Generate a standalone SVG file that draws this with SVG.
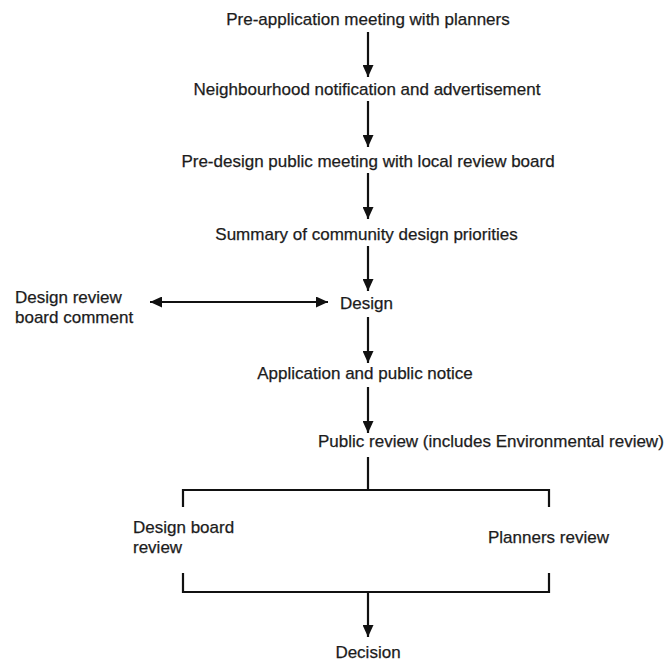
<svg xmlns="http://www.w3.org/2000/svg" width="670" height="664" viewBox="0 0 670 664">
<defs>
<marker id="ah" viewBox="0 0 12 11" refX="12" refY="5.5" markerWidth="12" markerHeight="11" markerUnits="userSpaceOnUse" orient="auto-start-reverse">
<path d="M0,0 L12,5.5 L0,11 Z" fill="#111"/>
</marker>
<style>
text{font-family:"Liberation Sans",Arial,sans-serif;font-size:17px;fill:#1c1c1c;stroke:#1c1c1c;stroke-width:0.25}
.c{text-anchor:middle}
.ln{stroke:#111;stroke-width:2.2;fill:none}
</style>
</defs>
<rect width="670" height="664" fill="#fff"/>
<g id="connectors">
<line class="ln" x1="368" y1="32" x2="368" y2="77" marker-end="url(#ah)"/>
<line class="ln" x1="368" y1="101" x2="368" y2="147" marker-end="url(#ah)"/>
<line class="ln" x1="368" y1="173" x2="368" y2="219" marker-end="url(#ah)"/>
<line class="ln" x1="368" y1="246" x2="368" y2="291" marker-end="url(#ah)"/>
<line class="ln" x1="150" y1="302" x2="328" y2="302" marker-start="url(#ah)" marker-end="url(#ah)"/>
<line class="ln" x1="368" y1="317" x2="368" y2="363" marker-end="url(#ah)"/>
<line class="ln" x1="368" y1="387" x2="368" y2="433" marker-end="url(#ah)"/>
<path class="ln" d="M368,457 V490 M183,507 V490 H549 V507"/>
<path class="ln" d="M183,573 V592 H549 V573"/>
<line class="ln" x1="368" y1="592" x2="368" y2="637" marker-end="url(#ah)"/>
</g>
<g id="n1"><text class="c" x="368" y="25">Pre-application meeting with planners</text></g>
<g id="n2"><text class="c" x="367" y="95">Neighbourhood notification and advertisement</text></g>
<g id="n3"><text class="c" x="368" y="167">Pre-design public meeting with local review board</text></g>
<g id="n4"><text class="c" x="366.5" y="240">Summary of community design priorities</text></g>
<g id="n5"><text class="c" x="366.5" y="309">Design</text></g>
<g id="n6"><text x="15" y="303">Design review</text><text x="15" y="323">board comment</text></g>
<g id="n7"><text class="c" x="365" y="379">Application and public notice</text></g>
<g id="n8"><text x="318" y="447">Public review (includes Environmental review)</text></g>
<g id="n9"><text x="133" y="533">Design board</text><text x="133" y="553">review</text></g>
<g id="n10"><text x="488" y="543">Planners review</text></g>
<g id="n11"><text class="c" x="368" y="658">Decision</text></g>
</svg>
